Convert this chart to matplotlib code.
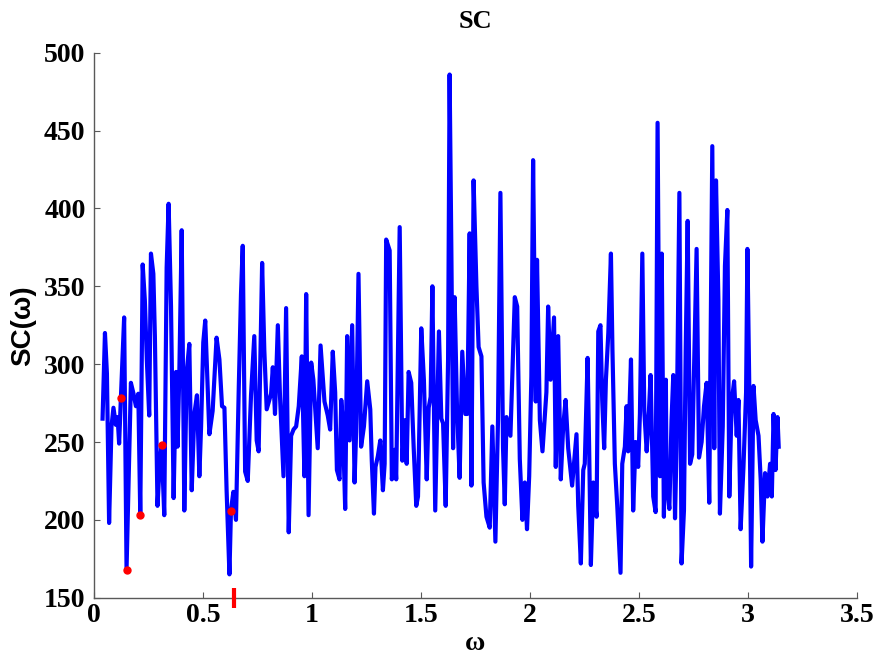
import matplotlib
matplotlib.use("Agg")
import matplotlib.pyplot as plt

# SC(omega) curve, vertices
omega = [
    0.040, 0.051, 0.060, 0.070, 0.081, 0.090, 0.101, 0.109, 0.116, 0.124,
    0.139, 0.150, 0.170, 0.182, 0.193, 0.204, 0.213, 0.224, 0.234, 0.243,
    0.254, 0.262, 0.273, 0.280, 0.292, 0.303, 0.311, 0.323, 0.334, 0.343,
    0.354, 0.366, 0.377, 0.384, 0.392, 0.403, 0.415, 0.426, 0.438, 0.449,
    0.461, 0.473, 0.484, 0.492, 0.502, 0.511,
    0.530, 0.545, 0.563, 0.576, 0.588, 0.599, 0.609, 0.622, 0.629, 0.640,
    0.652, 0.665, 0.675, 0.683, 0.694, 0.706, 0.721, 0.736, 0.747, 0.756,
    0.772, 0.782, 0.793, 0.805, 0.813, 0.821, 0.831, 0.844, 0.854, 0.870,
    0.882, 0.894, 0.905, 0.916, 0.928, 0.940, 0.954, 0.966, 0.974, 0.985,
    0.997, 1.007, 1.027, 1.040,
    1.058, 1.073, 1.084, 1.096, 1.107, 1.115, 1.127, 1.135, 1.142, 1.153,
    1.162, 1.173, 1.185, 1.196, 1.203, 1.214, 1.226, 1.239, 1.254, 1.268,
    1.275, 1.285, 1.292, 1.303, 1.314, 1.326, 1.334, 1.341, 1.357, 1.367,
    1.380, 1.387, 1.403, 1.415, 1.426, 1.435, 1.444, 1.456, 1.467, 1.479,
    1.487, 1.502, 1.514, 1.527, 1.536, 1.545, 1.553, 1.566,
    1.583, 1.594, 1.602, 1.614, 1.625, 1.632, 1.640, 1.648, 1.655, 1.666,
    1.678, 1.690, 1.704, 1.713, 1.724, 1.732, 1.742, 1.755, 1.765, 1.778,
    1.788, 1.801, 1.816, 1.828, 1.842, 1.854, 1.865, 1.877, 1.885, 1.893,
    1.911, 1.931, 1.942, 1.954, 1.966, 1.977, 1.987, 1.997, 2.007, 2.015,
    2.027, 2.033, 2.046, 2.058, 2.076, 2.084, 2.095,
    2.111, 2.119, 2.130, 2.142, 2.153, 2.164, 2.176, 2.194, 2.214, 2.222,
    2.234, 2.245, 2.252, 2.265, 2.272, 2.280, 2.291, 2.306, 2.314, 2.324,
    2.332, 2.341, 2.349, 2.360, 2.372, 2.379, 2.390, 2.401, 2.416, 2.424,
    2.436, 2.444, 2.451, 2.464, 2.474, 2.485, 2.497, 2.505, 2.516, 2.525,
    2.536, 2.543, 2.554, 2.566, 2.577, 2.586, 2.597, 2.605, 2.615, 2.624,
    2.627, 2.640, 2.650, 2.658, 2.666, 2.673, 2.686, 2.696, 2.707, 2.715,
    2.724, 2.735, 2.745, 2.755, 2.765, 2.776, 2.788, 2.799, 2.811, 2.823,
    2.837, 2.846, 2.854, 2.865, 2.872, 2.885, 2.895, 2.906, 2.915, 2.926,
    2.937, 2.949, 2.957, 2.967, 2.980, 2.992, 2.998, 3.007, 3.015, 3.026,
    3.036, 3.049, 3.059, 3.067, 3.079, 3.090, 3.102, 3.110, 3.118, 3.127,
    3.136, 3.1416,
]
sc = [
    265, 320, 294, 198, 260, 272, 261, 266, 249, 278,
    330, 168, 288, 281, 273, 281, 203, 364, 341, 303,
    267, 371, 358, 318, 209, 238, 248, 203, 362, 403,
    337, 214, 295, 247, 293, 386, 206, 295, 313, 219,
    268, 280, 228, 260, 314, 328,
    255, 270, 317, 303, 273, 272, 219, 165, 206, 218,
    200, 286, 345, 376, 231, 225, 280, 318, 251, 244,
    365, 309, 271, 277, 281, 298, 268, 325, 279, 228,
    336, 192, 254, 258, 260, 273, 305, 228, 345, 203,
    301, 290, 246, 312,
    276, 267, 258, 308, 282, 232, 226, 277, 263, 207,
    318, 251, 325, 224, 256, 358, 247, 260, 289, 271,
    238, 204, 234, 241, 251, 219, 236, 380, 373, 226,
    245, 226, 388, 238, 264, 236, 295, 288, 247, 209,
    215, 323, 290, 226, 272, 279, 350, 206,
    321, 265, 262, 209, 303, 486, 373, 246, 343, 271,
    227, 308, 268, 268, 384, 222, 418, 350, 311, 305,
    224, 202, 195, 260, 186, 264, 410, 246, 210, 266,
    254, 343, 337, 239, 200, 224, 194, 228, 292, 431,
    276, 367, 264, 244, 282, 337, 290,
    330, 234, 318, 226, 260, 277, 246, 222, 255, 209,
    172, 232, 236, 304, 247, 171, 224, 202, 321, 325,
    277, 246, 290, 320, 371, 309, 236, 209, 166, 236,
    247, 273, 244, 303, 206, 250, 234, 268, 371, 270,
    244, 260, 293, 215, 205, 455, 228, 371, 202, 290,
    224, 207, 264, 293, 201, 247, 410, 172, 206, 309,
    392, 236, 242, 309, 374, 240, 250, 273, 288, 211,
    440, 246, 418, 341, 204, 260, 363, 399, 215, 276,
    289, 254, 277, 194, 234, 282, 374, 282, 170, 286,
    264, 254, 226, 186, 230, 215, 236, 215, 268, 232,
    266, 247,
]

# red markers on the curve and the red tick on the axis
dot_omega = [0.124, 0.150, 0.213, 0.311, 0.629]
dot_sc = [278, 168, 203, 248, 206]
tick_omega = 0.642

x_ticks = [0, 0.5, 1, 1.5, 2, 2.5, 3, 3.5]
x_labels = ["0", "0.5", "1", "1.5", "2", "2.5", "3", "3.5"]
y_ticks = [150, 200, 250, 300, 350, 400, 450, 500]

serif = "Liberation Serif"

fig = plt.figure(figsize=(8.77, 6.59), dpi=100)
ax = fig.add_axes([0.107, 0.093, 0.870, 0.827])

ax.plot(omega, sc, color="#0000ff", linewidth=3)
ax.plot(dot_omega, dot_sc, "o", color="red", markersize=5, zorder=3)
ax.plot([tick_omega], [150], marker="|", color="red", markersize=14,
        markeredgewidth=3, clip_on=False, zorder=4)

ax.set_xlim(0, 3.5)
ax.set_ylim(150, 500)
ax.set_xticks(x_ticks)
ax.set_xticklabels(x_labels)
ax.set_yticks(y_ticks)

for s in ["top", "right"]:
    ax.spines[s].set_visible(False)
for s in ["left", "bottom"]:
    ax.spines[s].set_color("0.35")
    ax.spines[s].set_linewidth(1)

ax.tick_params(direction="in", length=4, width=0.8, color="0.35")
ax.tick_params(axis="y", pad=6)
ax.tick_params(axis="x", pad=4)
for lab in ax.get_xticklabels() + ax.get_yticklabels():
    lab.set_fontfamily(serif)
    lab.set_fontweight("bold")
    lab.set_fontsize(20)

ax.set_title("SC", family=serif, fontweight="bold", fontsize=19, pad=18)
ax.set_xlabel("ω", family=serif, fontweight="bold", fontsize=20, labelpad=2)
ax.set_ylabel("SC(ω)", family="Liberation Sans", fontweight="bold", fontsize=20, labelpad=6)

fig.savefig("out.png", dpi=100)
